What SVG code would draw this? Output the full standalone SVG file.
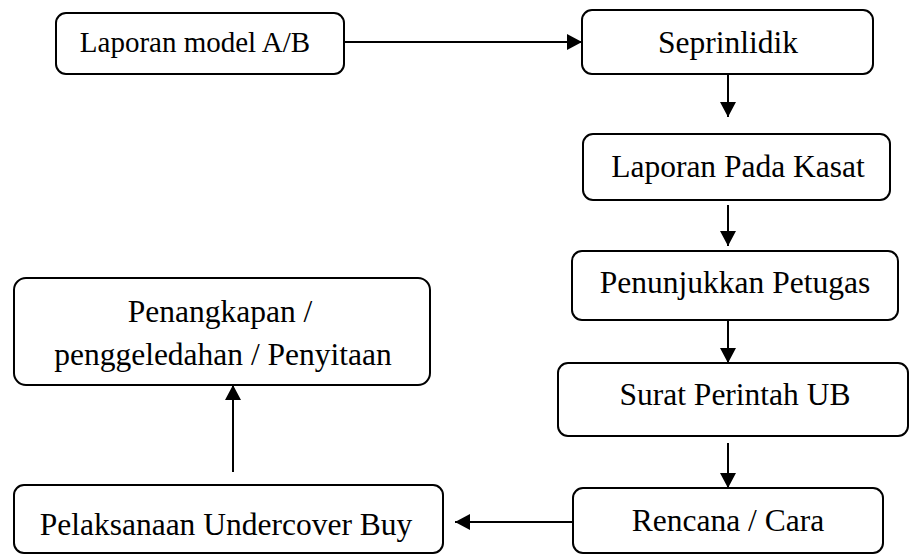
<svg xmlns="http://www.w3.org/2000/svg" width="909" height="554" viewBox="0 0 909 554">
<style>
.box{fill:#fff;stroke:#000;stroke-width:2}
.t{font-family:"Liberation Serif","Times New Roman",serif;font-size:31.5px;fill:#000;text-anchor:middle}
.c{stroke:#000;stroke-width:2;fill:none;marker-end:url(#ah)}
</style>
<defs>
<marker id="ah" markerWidth="15" markerHeight="16" refX="15" refY="8" orient="auto" markerUnits="userSpaceOnUse">
<path d="M0,0 L15,8 L0,16 Z" fill="#000"/>
</marker>
</defs>
<rect width="909" height="554" fill="#fff"/>
<g id="connectors">
<line class="c" x1="344" y1="42" x2="582" y2="42"/>
<line class="c" x1="728" y1="74" x2="728" y2="117"/>
<line class="c" x1="728" y1="205" x2="728" y2="246"/>
<line class="c" x1="728" y1="320" x2="728" y2="363"/>
<line class="c" x1="728" y1="443" x2="728" y2="488"/>
<line class="c" x1="573" y1="522" x2="455" y2="522"/>
<line class="c" x1="233" y1="472" x2="233" y2="385"/>
</g>
<g id="n1"><rect class="box" x="56" y="13" width="288" height="61" rx="10"/><text class="t" x="195" y="52" style="font-size:29px">Laporan model A/B</text></g>
<g id="n2"><rect class="box" x="582" y="10" width="291" height="64" rx="10"/><text class="t" x="728" y="53">Seprinlidik</text></g>
<g id="n3"><rect class="box" x="583" y="134" width="307" height="66" rx="10"/><text class="t" x="738" y="177">Laporan Pada Kasat</text></g>
<g id="n4"><rect class="box" x="572" y="251" width="326" height="69" rx="10"/><text class="t" x="735" y="293">Penunjukkan Petugas</text></g>
<g id="n5"><rect class="box" x="558" y="363" width="350" height="73" rx="10"/><text class="t" x="735" y="405">Surat Perintah UB</text></g>
<g id="n6"><rect class="box" x="573" y="488" width="310" height="65" rx="10"/><text class="t" x="728" y="531">Rencana / Cara</text></g>
<g id="n7"><rect class="box" x="14" y="485" width="429" height="68" rx="10"/><text class="t" x="226" y="535">Pelaksanaan Undercover Buy</text></g>
<g id="n8"><rect class="box" x="14" y="278" width="416" height="107" rx="12"/><text class="t" x="220" y="322">Penangkapan /</text><text class="t" x="223" y="365">penggeledahan / Penyitaan</text></g>
</svg>
